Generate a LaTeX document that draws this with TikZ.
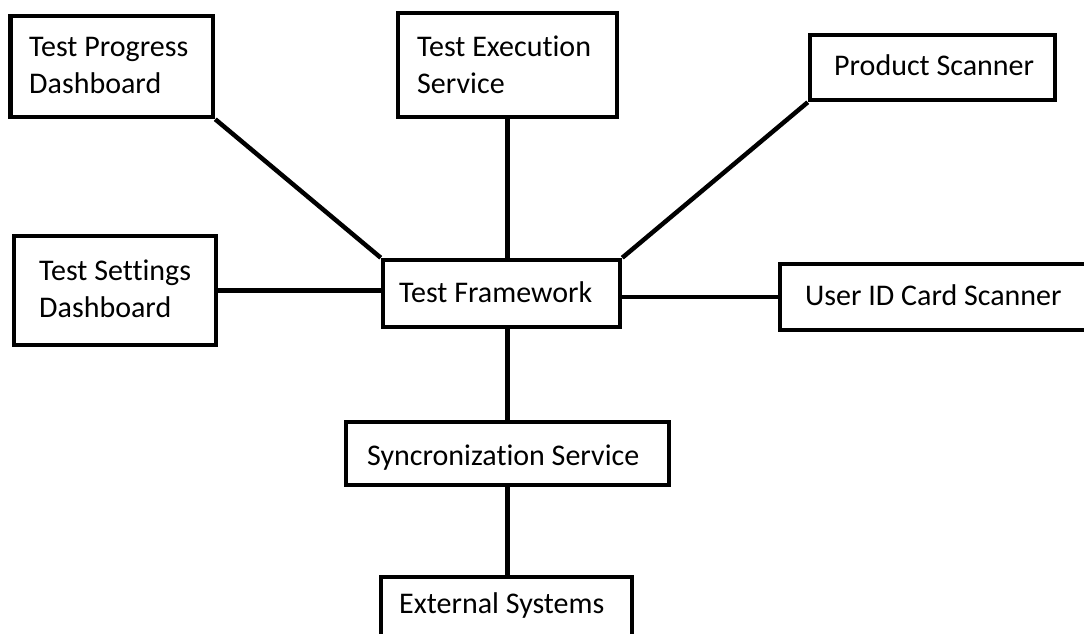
\documentclass[tikz,border=0pt]{standalone}
\usepackage{fontspec}
\setmainfont{Carlito}[Ligatures=NoCommon]
\begin{document}
\begin{tikzpicture}[x=1pt,y=-1pt,
  box/.style={draw, line width=4.5pt, rectangle, inner sep=0pt},
  txt/.style={anchor=base west, align=left, inner sep=0pt,
    font=\fontsize{30}{36}\selectfont},
  link/.style={line width=4.5pt}]
\useasboundingbox (0,0) rectangle (1084,634);
\begin{scope}
\clip (0,0) rectangle (1084,634);
% component frames
\node[box, minimum width=202.5, minimum height=101] (prog)  at (111.75,66.5) {};
\node[box, minimum width=219,   minimum height=104] (exec)  at (507.5,65) {};
\node[box, minimum width=245,   minimum height=65]  (prod)  at (932.5,67.5) {};
\node[box, minimum width=202,   minimum height=109] (sett)  at (115,290.5) {};
\node[box, minimum width=237,   minimum height=67]  (frame) at (501.5,293.5) {};
\node[box, minimum width=310,   minimum height=66]  (user)  at (935,297) {};
\node[box, minimum width=323,   minimum height=63]  (sync)  at (507.5,453.5) {};
\node[box, minimum width=251,   minimum height=68]  (ext)   at (506.5,611) {};
% component names
\node[txt] (progA)  at (29,57)   {Test Progress};
\node[txt] (progB)  at (29,93)   {Dashboard};
\node[txt] (execA)  at (417,57)  {Test Execution};
\node[txt] (execB)  at (417,93)  {Service};
\node[txt] (prodT)  at (834,75)  {Product Scanner};
\node[txt] (settA)  at (39,280)  {Test Settings};
\node[txt] (settB)  at (39,317)  {Dashboard};
\node[txt] (frameT) at (399,302) {Test Framework};
\node[txt] (userT)  at (805,305) {User ID Card Scanner};
\node[txt] (syncT)  at (367,465) {Syncronization Service};
\node[txt] (extT)   at (399,613) {External Systems};
% connections
\draw[link] (prog.south east) -- (frame.north west);
\draw[link] (exec.south) -- (exec.south |- frame.north);
\draw[link] (prod.south west) -- (frame.north east);
\draw[link] (sett.east) -- (sett.east -| frame.west);
\draw[link] (user.west -| frame.east) -- (user.west);
\draw[link] (sync.north |- frame.south) -- (sync.north);
\draw[link] (sync.south) -- (sync.south |- ext.north);
\end{scope}
\end{tikzpicture}
\end{document}
